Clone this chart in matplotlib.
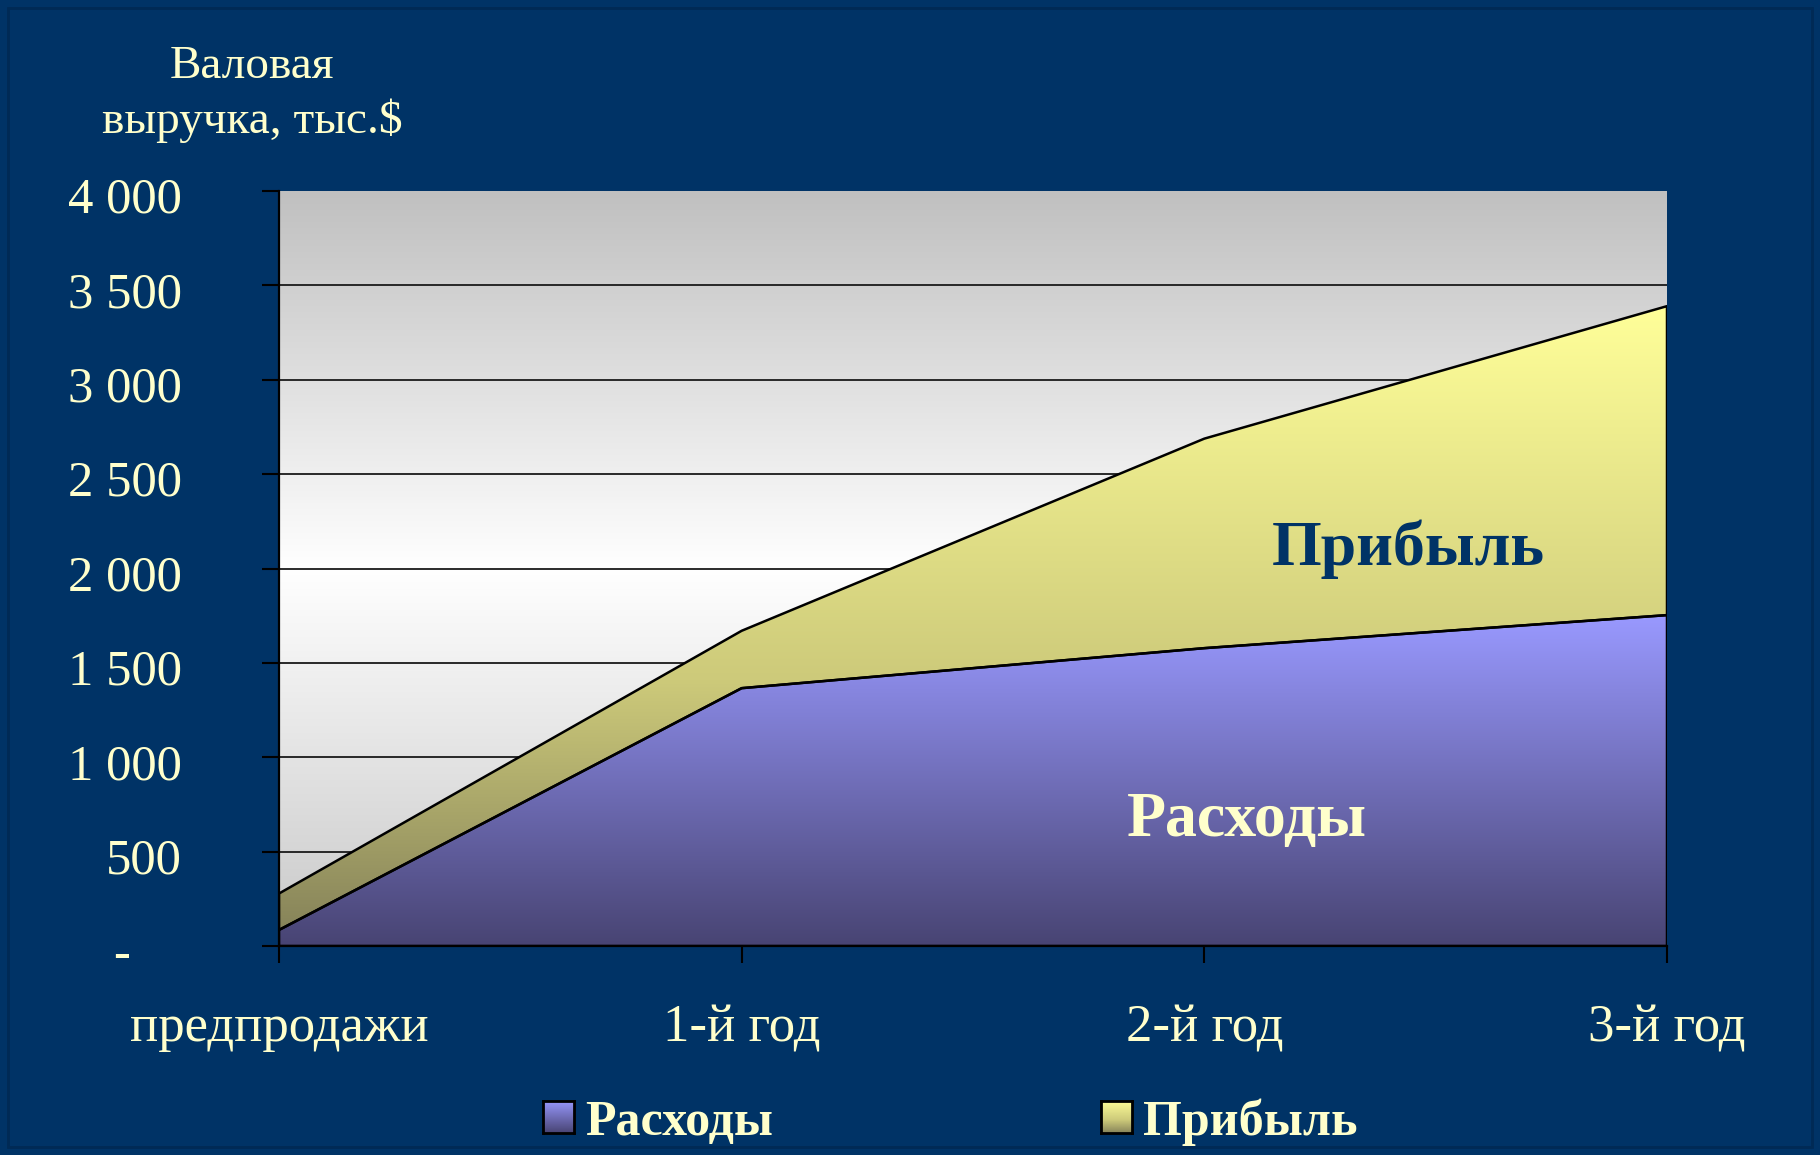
import numpy as np
import matplotlib
matplotlib.use('Agg')
import matplotlib.pyplot as plt
from matplotlib.colors import LinearSegmentedColormap
from matplotlib.patches import Patch, Rectangle
from matplotlib.transforms import ScaledTranslation

categories = ['предпродажи', '1-й год', '2-й год', '3-й год']
expenses = [85, 1366, 1578, 1753]
profit = [193, 304, 1110, 1637]
y_ticks = [0, 500, 1000, 1500, 2000, 2500, 3000, 3500, 4000]
y_tick_labels = ['-    ', '500', '1 000', '1 500', '2 000', '2 500', '3 000', '3 500', '4 000']
series_names = ['Расходы', 'Прибыль']
y_title = ['Валовая', 'выручка, тыс.$']

BG = '#003366'
CREAM = '#FFFFCC'
plt.rcParams['font.family'] = ['Liberation Serif', 'DejaVu Serif']

W, H = 1820, 1155
fig = plt.figure(figsize=(W / 100, H / 100), dpi=100, facecolor=BG)
L, R, T, B = 279, 1667, 191, 946
ax = fig.add_axes([L / W, 1 - B / H, (R - L) / W, (B - T) / H])
ax.set_facecolor('#C0C0C0')

x = np.arange(len(categories))
exp = np.array(expenses, float)
tot = exp + np.array(profit, float)

grad = np.linspace(0, 1, 256).reshape(-1, 1)

# plot-area gradient
bg_cmap = LinearSegmentedColormap.from_list('bg', [(0, '#C8C8C8'), (0.5, '#FFFFFF'), (1, '#C0C0C0')])
ax.imshow(grad, cmap=bg_cmap, origin='lower', extent=[0, 1, 0, 1],
          transform=ax.transAxes, aspect='auto', zorder=0, interpolation='bilinear')


def grad_fill(y0, y1, stops, vmin, vmax):
    poly = ax.fill_between(x, y0, y1, facecolor='none', edgecolor='black',
                           linewidth=1.8, zorder=3)
    cmap = LinearSegmentedColormap.from_list('s', stops)
    im = ax.imshow(grad, cmap=cmap, origin='lower',
                   extent=[x[0], x[-1], vmin, vmax], aspect='auto', zorder=2,
                   interpolation='bilinear')
    im.set_clip_path(poly.get_paths()[0], transform=ax.transData)
    return cmap


exp_stops = [(0, '#484473'), (1, '#9999FF')]
pro_stops = [(0, '#87845A'), (0.4, '#CDCA7A'), (1, '#FFFF99')]
grad_fill(np.zeros_like(exp), exp, exp_stops, 0, exp.max())
grad_fill(exp, tot, pro_stops, exp.min(), tot.max())

ax.set_xlim(x[0], x[-1])
ax.set_ylim(y_ticks[0], y_ticks[-1])
ax.set_xticks(x)
ax.set_xticklabels(categories)
ax.set_yticks(y_ticks)
ax.set_yticklabels(y_tick_labels)

ax.yaxis.grid(True, color='#1a1a1a', linewidth=1.3)
ax.set_axisbelow(True)
gl = ax.get_ygridlines()
gl[0].set_visible(False)
gl[-1].set_visible(False)

for s in ['top', 'right']:
    ax.spines[s].set_visible(False)
for s in ['left', 'bottom']:
    ax.spines[s].set_color('black')
    ax.spines[s].set_linewidth(1.6)
    ax.spines[s].set_zorder(4)

ax.tick_params(axis='y', direction='out', length=12, width=1.5, color='black',
               labelsize=36.5, labelcolor=CREAM, pad=58)
ax.tick_params(axis='x', direction='out', length=12, width=1.5, color='black',
               labelsize=38, labelcolor=CREAM, pad=30)
off = ScaledTranslation(0, -4 / 100, fig.dpi_scale_trans)
for lab in ax.get_yticklabels():
    lab.set_transform(lab.get_transform() + off)

# in-chart labels
ax.text(2.44, 2018, series_names[1], fontsize=46, fontweight='bold',
        color='#003366', ha='center', va='baseline', zorder=5)
ax.text(2.093, 583, series_names[0], fontsize=46, fontweight='bold',
        color=CREAM, ha='center', va='baseline', zorder=5)

# y-axis title
fig.text(252 / W, 1 - 78 / H, y_title[0], fontsize=34, color=CREAM,
         ha='center', va='baseline')
fig.text(252 / W, 1 - 133 / H, y_title[1], fontsize=34, color=CREAM,
         ha='center', va='baseline')

# legend
handles = [Patch(facecolor='#7878C8', edgecolor='black'),
           Patch(facecolor='#D0D088', edgecolor='black')]
leg = fig.legend(handles, series_names, loc='center', bbox_to_anchor=(0.522, 1 - 1122 / H),
                 ncol=2, frameon=False, prop={'size': 36, 'weight': 'bold'},
                 labelcolor=CREAM, columnspacing=6.55, handlelength=0.62,
                 handleheight=0.62, handletextpad=0.22)

fig.canvas.draw()
inv = fig.transFigure.inverted()
for p, stops in zip(leg.get_patches(), [exp_stops, pro_stops]):
    bb = p.get_window_extent()
    (x0, y0), (x1, y1) = inv.transform([[bb.x0, bb.y0], [bb.x1, bb.y1]])
    sax = fig.add_axes([x0, y0, x1 - x0, y1 - y0])
    sax.set_zorder(10)
    sax.imshow(grad, cmap=LinearSegmentedColormap.from_list('sw', stops),
               origin='lower', aspect='auto', extent=[0, 1, 0, 1])
    sax.set_xticks([])
    sax.set_yticks([])
    for s in sax.spines.values():
        s.set_color('black')
        s.set_linewidth(2)

fig.add_artist(Rectangle((8 / W, 8 / H), 1 - 16 / W, 1 - 16 / H, transform=fig.transFigure,
                         fill=False, edgecolor='#002a55', linewidth=2))

fig.savefig('out.png', dpi=100, facecolor=BG)
